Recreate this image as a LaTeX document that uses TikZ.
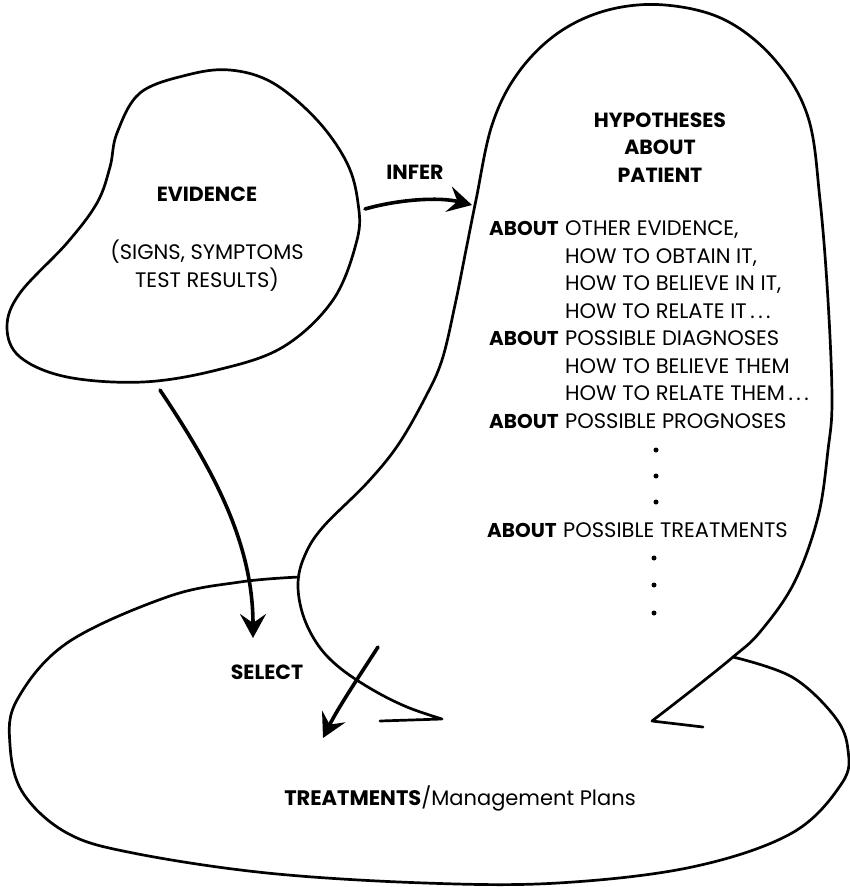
\documentclass[tikz,border=0pt]{standalone}
\usepackage{fontspec}
\setmainfont{Poppins}
\usetikzlibrary{arrows.meta}
\tikzset{
  outline/.style={line width=2.7pt, line join=round, line cap=round},
  flow/.style={line width=3.6pt, line cap=round, -{Stealth[length=24pt,width=26pt,inset=9pt]}},
  body/.style={font=\fontsize{21}{23}\selectfont, inner sep=0pt, anchor=base west},
  head/.style={font=\fontsize{20.5}{23}\selectfont\bfseries, inner sep=0pt, anchor=base},
  kw/.style={font=\fontsize{20}{23}\selectfont\bfseries, inner sep=0pt, anchor=base west},
  dotmark/.style={circle, fill=black, inner sep=0pt, minimum size=5pt}
}
\begin{document}
\begin{tikzpicture}[x=1pt,y=-1pt]
\useasboundingbox (0,0) rectangle (850,887);
% Evidence blob
\draw[outline] plot[smooth cycle, tension=0.6] coordinates {
 (230,70) (273,83) (317,120) (347,163) (358,203) (357,240) (333,300) (283,347)
 (217,370) (143,382) (67,377) (20,357) (7,327) (20,293) (67,243) (97,203)
 (110,167) (117,133) (140,93) (187,75)};
% Treatments ellipse (open, behind hypotheses blob)
\draw[outline] plot[smooth, tension=0.6] coordinates {
 (299,577) (240,582) (167,597) (67,643) (17,700) (10,745) (23,793) (67,833)
 (133,853) (267,873) (425,883) (558,883) (692,867) (792,833) (842,783)
 (848,750) (835,717) (792,677) (733,657)};
% Hypotheses blob
\draw[outline] (380,721) -- (442,719) plot[smooth, tension=0.6] coordinates {
 (442,719) (407,707) (373,690) (340,668) (318,645) (303,615) (298,583)
 (305,555) (323,527) (367,483) (398,445) (425,398) (442,360) (455,305)
 (466,250) (476,200) (492,125) (518,73) (558,33) (608,10) (665,5) (725,20)
 (775,60) (808,117) (820,200) (828,300) (832,400) (828,450) (818,517)
 (794,583) (760,632) (733,657) (692,690) (652,721)} -- (703,727);
% Texts
\node[head] (ev) at (207,201) {EVIDENCE};
\node[body, anchor=base] (ev1) at (207,259) {(SIGNS, SYMPTOMS};
\node[body, anchor=base] (ev2) at (207,287) {TEST RESULTS)};
\node[head] (infer) at (415,179) {INFER};
\node[head] (h1) at (660,127) {HYPOTHESES};
\node[head] (h2) at (660,154) {ABOUT};
\node[head] (h3) at (660,182) {PATIENT};
\node[kw] (k1) at (489,235) {ABOUT};
\node[body] (t1) at (565,235) {OTHER EVIDENCE,};
\node[body] (t2) at (565,263) {HOW TO OBTAIN IT,};
\node[body] (t3) at (565,290) {HOW TO BELIEVE IN IT,};
\node[body] (t4) at (565,318) {HOW TO RELATE IT\,.\,.\,.};
\node[kw] (k2) at (489,345) {ABOUT};
\node[body] (t5) at (565,345) {POSSIBLE DIAGNOSES};
\node[body] (t6) at (565,373) {HOW TO BELIEVE THEM};
\node[body] (t7) at (565,400) {HOW TO RELATE THEM\,.\,.\,.};
\node[kw] (k3) at (489,428) {ABOUT};
\node[body] (t8) at (565,428) {POSSIBLE PROGNOSES};
\node[dotmark] (d1) at (656,450) {};
\node[dotmark] (d2) at (656,476) {};
\node[dotmark] (d3) at (656,502) {};
\node[kw] (k4) at (487,537) {ABOUT};
\node[body] (t9) at (563,537) {POSSIBLE TREATMENTS};
\node[dotmark] (d4) at (654,558) {};
\node[dotmark] (d5) at (654,585) {};
\node[dotmark] (d6) at (654,613) {};
\node[head] (select) at (267,679) {SELECT};
\node[body, anchor=base] (treat) at (460,805) {{\bfseries TREATMENTS}/Management Plans};
% Arrows
\coordinate (ia) at (365,209);
\coordinate (ib) at (472,205);
\coordinate (sa) at (160,390);
\coordinate (sb) at (253,638);
\coordinate (ta) at (378,647);
\coordinate (tb) at (323,738);
\draw[flow] (ia) .. controls (400,199) and (440,197) .. (ib);
\draw[flow] (sa) .. controls (210,465) and (253,540) .. (sb);
\draw[flow] (ta) .. controls (358,678) and (338,708) .. (tb);
\end{tikzpicture}
\end{document}
